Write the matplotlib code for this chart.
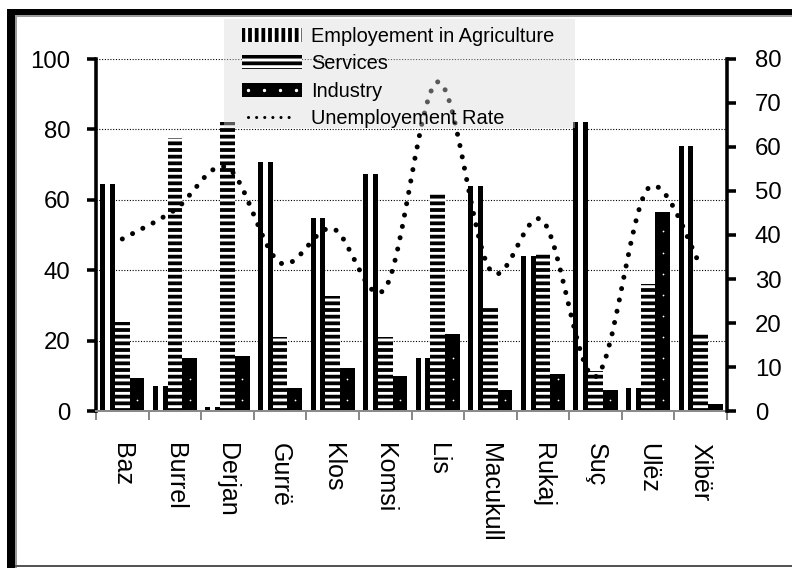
import numpy as np
import matplotlib
matplotlib.use("Agg")
import matplotlib.pyplot as plt
from matplotlib.path import Path
from matplotlib.patches import PathPatch, Patch, Rectangle
from matplotlib.lines import Line2D
from matplotlib.legend_handler import HandlerTuple

villages = ["Baz", "Burrel", "Derjan", "Gurrë", "Klos", "Komsi", "Lis",
            "Macukull", "Rukaj", "Suç", "Ulëz", "Xibër"]
agriculture = [64.5, 7.2, 1.0, 70.7, 54.7, 67.2, 15.1, 64.0, 44.1, 82.2, 6.6, 75.2]
services = [25.4, 77.5, 82.2, 21.0, 32.8, 21.0, 62.1, 29.9, 45.3, 11.5, 36.2, 22.5]
industry = [9.5, 15.1, 15.7, 6.6, 12.3, 10.0, 22.0, 6.0, 10.6, 6.0, 56.4, 2.1]
unemployment = [39.1, 45.7, 55.3, 33.7, 41.5, 27.9, 74.8, 32.0, 43.2, 7.8, 50.6, 33.0]
left_ticks = [0, 20, 40, 60, 80, 100]
right_ticks = [0, 10, 20, 30, 40, 50, 60, 70, 80]
series_names = ["Employement in Agriculture", "Services", "Industry", "Unemployement Rate"]

plt.rcParams["font.family"] = ["Liberation Sans", "DejaVu Sans"]
plt.rcParams["hatch.linewidth"] = 3.4

W, H, DPI = 792, 568, 80
fig = plt.figure(figsize=(W / DPI, H / DPI), dpi=DPI)
fig.patch.set_facecolor("white")

def fx(px):
    return px / W

def fy(py):
    return 1 - py / H

ax = fig.add_axes([fx(96), fy(411), fx(727) - fx(96), fy(59) - fy(411)])
ax2 = ax.twinx()

n = len(villages)
x = np.arange(n)
bw = 0.28

# Agriculture: black bar with white centre stripe
ax.bar(x - bw, agriculture, width=bw, color="black", linewidth=0, zorder=2)
ax.bar(x - bw, agriculture, width=bw * 0.32, color="white", linewidth=0, zorder=2.1)
# Services: horizontal stripes
ax.bar(x, services, width=bw, facecolor="white", edgecolor="black", linewidth=0,
       hatch="--", zorder=2)
# Industry: black with white dots
ax.bar(x + bw, industry, width=bw, color="black", linewidth=0, zorder=2)
dot_x, dot_y = [], []
for xi, h in zip(x, industry):
    for yy in np.arange(3.0, h - 1.0, 6.0):
        dot_x.append(xi + bw)
        dot_y.append(yy)
ax.scatter(dot_x, dot_y, s=2.5, color="white", linewidths=0, zorder=2.2)

ax.set_xlim(-0.5, n - 0.5)
ax.set_ylim(0, 100)
ax.set_yticks(left_ticks)
ax.set_xticks(x)
ax.set_xticklabels(villages, rotation=270, fontsize=22.5)
ax.set_xticks(np.arange(-0.5, n, 1.0), minor=True)
ax.tick_params(axis="x", which="major", length=0, pad=28.5)
ax.tick_params(axis="x", which="minor", length=8, width=1.8, color="#8a8a8a", direction="out")
ax.tick_params(axis="y", which="major", length=8, width=3.2, color="black",
               labelsize=21.6, pad=15, direction="out")
ax.set_axisbelow(True)
ax.yaxis.grid(True, linestyle=(0, (1, 1.5)), color="black", linewidth=1.0)
ax.spines["top"].set_visible(False)
ax.spines["right"].set_visible(False)
ax.spines["left"].set_linewidth(3.2)
ax.spines["left"].set_color("black")
ax.spines["bottom"].set_linewidth(1.8)
ax.spines["bottom"].set_color("#8a8a8a")

# Unemployment rate on secondary axis, smoothed curve through the points
ax2.set_ylim(0, 80)
ax2.set_yticks(right_ticks)
ax2.tick_params(axis="y", which="major", length=8, width=3.2, color="black",
                labelsize=21.6, pad=17, direction="out")
for s in ["top", "left", "bottom"]:
    ax2.spines[s].set_visible(False)
ax2.spines["right"].set_linewidth(3.2)
ax2.spines["right"].set_color("black")

P = np.column_stack([x.astype(float), np.asarray(unemployment, dtype=float)])
Pext = np.vstack([P[0], P, P[-1]])
verts = [P[0]]
codes = [Path.MOVETO]
for i in range(n - 1):
    p0, p1, p2, p3 = Pext[i], Pext[i + 1], Pext[i + 2], Pext[i + 3]
    verts += [p1 + (p2 - p0) / 6.0, p2 - (p3 - p1) / 6.0, p2]
    codes += [Path.CURVE4] * 3
curve = PathPatch(Path(verts, codes), facecolor="none", edgecolor="black",
                  linewidth=4.5, linestyle=(0, (0.01, 2.3)), capstyle="round",
                  zorder=3)
ax2.add_patch(curve)

# Legend background (semi-transparent grey box)
fig.add_artist(Rectangle((fx(224), fy(128)), fx(575) - fx(224), fy(19) - fy(128),
                         transform=fig.transFigure, facecolor="#d9d9d9", alpha=0.41,
                         edgecolor="none", zorder=4))

h_agri = Patch(facecolor="white", edgecolor="black", linewidth=0, hatch="||")
h_serv = Patch(facecolor="white", edgecolor="black", linewidth=0, hatch="--")
h_ind = (Patch(facecolor="black", edgecolor="black", linewidth=0),
         Line2D([], [], linestyle="none", marker="o", markersize=2,
                markerfacecolor="white", markeredgecolor="white"))
h_unemp = Line2D([], [], color="black", linewidth=2.8, linestyle=(0, (0.01, 2.6)),
                 dash_capstyle="round")
leg = fig.legend([h_agri, h_serv, h_ind, h_unemp], series_names,
                 loc="upper left", bbox_to_anchor=(fx(242), fy(27)),
                 bbox_transform=fig.transFigure, frameon=False, borderpad=0,
                 borderaxespad=0, fontsize=18.0, handlelength=3.0,
                 handletextpad=0.45, labelspacing=0.42, numpoints=4,
                 handler_map={tuple: HandlerTuple(ndivide=1)})
leg.set_zorder(5)

# Outer frame of the picture
frame_kw = dict(transform=fig.transFigure, linewidth=0, zorder=10)
fig.add_artist(Rectangle((fx(7), 0), fx(8), fy(9), facecolor="black", **frame_kw))
fig.add_artist(Rectangle((fx(7), fy(15)), 1 - fx(7), fy(9) - fy(15), facecolor="black", **frame_kw))
fig.add_artist(Rectangle((fx(15), 0), fx(1.5), fy(15), facecolor="#9a9a9a", **frame_kw))
fig.add_artist(Rectangle((fx(15), fy(16.5)), 1 - fx(15), fy(15) - fy(16.5), facecolor="#9a9a9a", **frame_kw))
fig.add_artist(Rectangle((fx(15), fy(567)), 1 - fx(15), fy(565) - fy(567), facecolor="#555555", **frame_kw))

fig.savefig("out.png", dpi=DPI, facecolor="white")
